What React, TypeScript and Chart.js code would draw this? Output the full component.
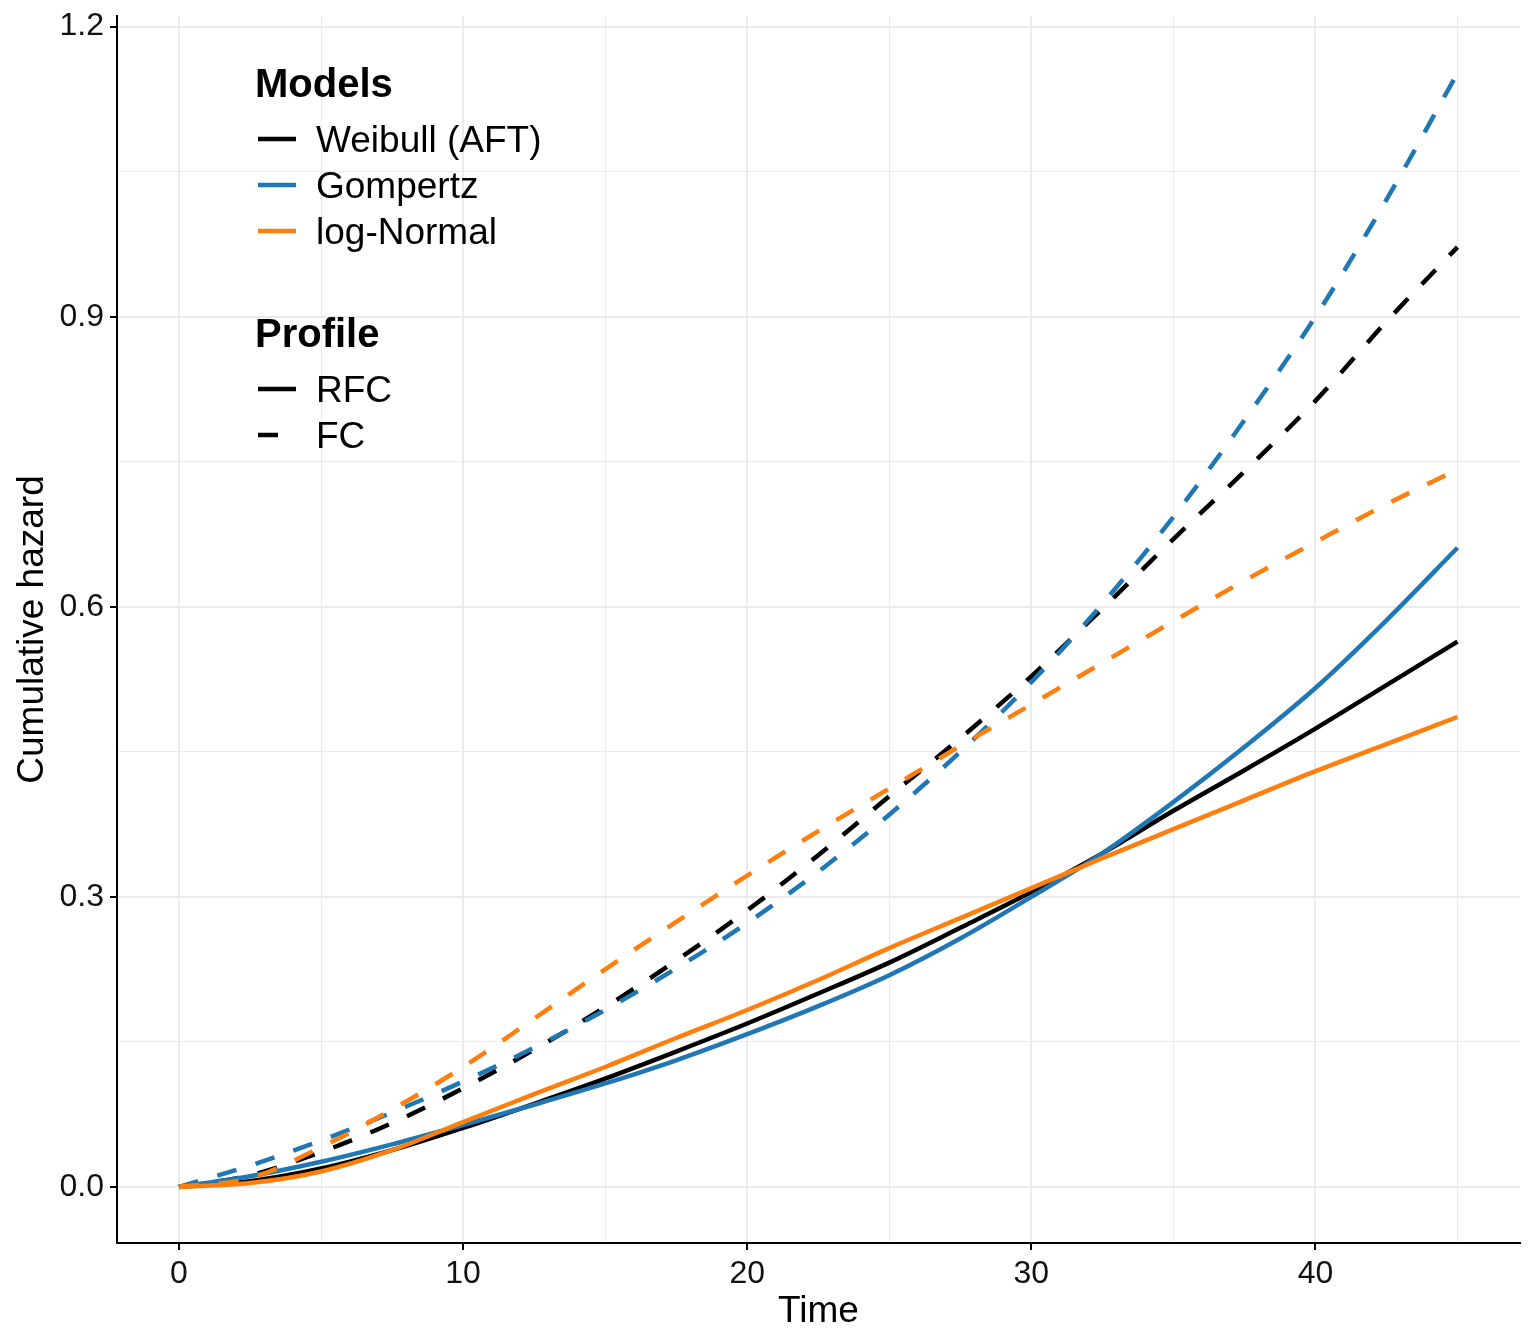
import { useEffect, useRef } from "react";
import { Chart, registerables } from "chart.js";
import type { Plugin } from "chart.js";

Chart.register(...registerables);

const times = [0, 2.5, 5, 7.5, 10, 12.5, 15, 17.5, 20, 22.5, 25, 27.5, 30, 32.5, 35, 37.5, 40, 42.5, 45];

const weibullRfc = [0, 0.006, 0.019, 0.038, 0.061, 0.086, 0.112, 0.140, 0.169, 0.200, 0.232, 0.268, 0.305, 0.345, 0.389, 0.431, 0.474, 0.519, 0.564];
const weibullFc = [0, 0.012, 0.036, 0.066, 0.102, 0.142, 0.186, 0.234, 0.286, 0.343, 0.404, 0.464, 0.528, 0.598, 0.670, 0.740, 0.813, 0.895, 0.972];
const gompertzRfc = [0, 0.011, 0.026, 0.044, 0.064, 0.085, 0.107, 0.131, 0.158, 0.187, 0.219, 0.257, 0.300, 0.345, 0.398, 0.455, 0.516, 0.586, 0.661];
const gompertzFc = [0, 0.022, 0.048, 0.077, 0.109, 0.144, 0.183, 0.226, 0.273, 0.326, 0.385, 0.450, 0.522, 0.603, 0.693, 0.793, 0.900, 1.021, 1.152];
const lognormalRfc = [0, 0.004, 0.016, 0.038, 0.067, 0.096, 0.124, 0.154, 0.183, 0.214, 0.247, 0.278, 0.309, 0.340, 0.370, 0.400, 0.430, 0.458, 0.486];
const lognormalFc = [0, 0.009, 0.041, 0.080, 0.124, 0.174, 0.225, 0.274, 0.322, 0.368, 0.412, 0.456, 0.499, 0.542, 0.585, 0.627, 0.667, 0.706, 0.742];

const modelNames = ["Weibull (AFT)", "Gompertz", "log-Normal"];
const modelColors = ["#000000", "#1F77B4", "#FF7F0E"];
const profileNames = ["RFC", "FC"];

const xTicks = [0, 5, 10, 15, 20, 25, 30, 35, 40, 45];
const xTickLabels = ["0", "", "10", "", "20", "", "30", "", "40", ""];
const yTicks = [0, 0.15, 0.3, 0.45, 0.6, 0.75, 0.9, 1.05, 1.2];
const yTickLabels = ["0.0", "", "0.3", "", "0.6", "", "0.9", "", "1.2"];

const font = "'Liberation Sans', Arial, sans-serif";
const dash = [20, 20];

const toPoints = (values: number[]) => values.map((y, i) => ({ x: times[i], y }));

const insideLegend: Plugin<"line"> = {
  id: "insideLegend",
  afterDraw(chart) {
    const ctx = chart.ctx;
    ctx.save();
    ctx.textBaseline = "alphabetic";
    ctx.textAlign = "left";
    ctx.fillStyle = "#000";

    ctx.font = `bold 40px ${font}`;
    ctx.fillText("Models", 255, 97);
    ctx.lineWidth = 4.5;
    ctx.lineCap = "butt";
    modelNames.forEach((name, i) => {
      const y = 139 + i * 46;
      ctx.strokeStyle = modelColors[i];
      ctx.setLineDash([]);
      ctx.beginPath();
      ctx.moveTo(258, y);
      ctx.lineTo(296, y);
      ctx.stroke();
      ctx.font = `37px ${font}`;
      ctx.fillText(name, 316, y + 13.2);
    });

    ctx.font = `bold 40px ${font}`;
    ctx.fillText("Profile", 255, 347);
    profileNames.forEach((name, i) => {
      const y = 389 + i * 46;
      ctx.strokeStyle = "#000";
      ctx.setLineDash(i === 0 ? [] : dash);
      ctx.beginPath();
      ctx.moveTo(258, y);
      ctx.lineTo(296, y);
      ctx.stroke();
      ctx.font = `37px ${font}`;
      ctx.fillText(name, 316, y + 13.2);
    });
    ctx.restore();
  },
};

export default function App() {
  const canvasRef = useRef<HTMLCanvasElement | null>(null);
  const chartRef = useRef<Chart | null>(null);

  useEffect(() => {
    document.body.style.margin = "0";
    const canvas = canvasRef.current;
    if (!canvas) {
      return;
    }

    chartRef.current?.destroy();

    // first dataset is painted last in chart.js, so orange ends up on top
    const series = [
      { label: "log-Normal RFC", data: lognormalRfc, color: modelColors[2], dashed: false },
      { label: "log-Normal FC", data: lognormalFc, color: modelColors[2], dashed: true },
      { label: "Gompertz RFC", data: gompertzRfc, color: modelColors[1], dashed: false },
      { label: "Gompertz FC", data: gompertzFc, color: modelColors[1], dashed: true },
      { label: "Weibull RFC", data: weibullRfc, color: modelColors[0], dashed: false },
      { label: "Weibull FC", data: weibullFc, color: modelColors[0], dashed: true },
    ];

    chartRef.current = new Chart(canvas, {
      type: "line",
      data: {
        datasets: series.map((s) => ({
          label: s.label,
          data: toPoints(s.data),
          borderColor: s.color,
          borderWidth: 4.5,
          borderDash: s.dashed ? dash : [],
          borderCapStyle: "butt",
          pointRadius: 0,
          fill: false,
          cubicInterpolationMode: "monotone",
        })),
      },
      options: {
        animation: false,
        responsive: true,
        maintainAspectRatio: false,
        layout: { padding: { top: 16, right: 16, left: 0, bottom: 0 } },
        plugins: {
          legend: { display: false },
          tooltip: { enabled: false },
        },
        scales: {
          x: {
            type: "linear",
            min: -2.18,
            max: 47.2,
            afterBuildTicks: (scale) => {
              scale.ticks = xTicks.map((value) => ({ value }));
            },
            afterFit: (scale) => {
              scale.height = 101;
              scale.paddingLeft = 0;
              scale.paddingRight = 0;
            },
            ticks: {
              autoSkip: false,
              maxRotation: 0,
              padding: 5,
              color: "#111",
              font: { family: font, size: 32 },
              callback: (_value, index) => xTickLabels[index],
            },
            grid: {
              color: "#EBEBEB",
              lineWidth: (c) => (xTickLabels[c.index] ? 2 : 1),
              tickColor: (c) => (xTickLabels[c.index] ? "#000" : "rgba(0,0,0,0)"),
              tickWidth: 2,
              tickLength: 7,
            },
            border: { display: true, color: "#000", width: 2 },
            title: {
              display: true,
              text: "Time",
              color: "#000",
              font: { family: font, size: 37 },
              padding: { top: 0, bottom: 10 },
            },
          },
          y: {
            type: "linear",
            min: -0.058,
            max: 1.211,
            afterBuildTicks: (scale) => {
              scale.ticks = yTicks.map((value) => ({ value }));
            },
            afterFit: (scale) => {
              scale.width = 117;
              scale.paddingTop = 0;
              scale.paddingBottom = 0;
            },
            ticks: {
              autoSkip: false,
              padding: 6,
              color: "#111",
              font: { family: font, size: 32 },
              callback: (_value, index) => yTickLabels[index],
            },
            grid: {
              color: "#EBEBEB",
              lineWidth: (c) => (yTickLabels[c.index] ? 2 : 1),
              tickColor: (c) => (yTickLabels[c.index] ? "#000" : "rgba(0,0,0,0)"),
              tickWidth: 2,
              tickLength: 7,
            },
            border: { display: true, color: "#000", width: 2 },
            title: {
              display: true,
              text: "Cumulative hazard",
              color: "#000",
              font: { family: font, size: 37 },
              padding: { top: 11, bottom: 0 },
            },
          },
        },
      },
      plugins: [insideLegend],
    });

    return () => {
      chartRef.current?.destroy();
      chartRef.current = null;
    };
  }, []);

  return (
    <div style={{ position: "relative", width: 1536, height: 1344, background: "#fff" }}>
      <canvas ref={canvasRef} />
    </div>
  );
}
